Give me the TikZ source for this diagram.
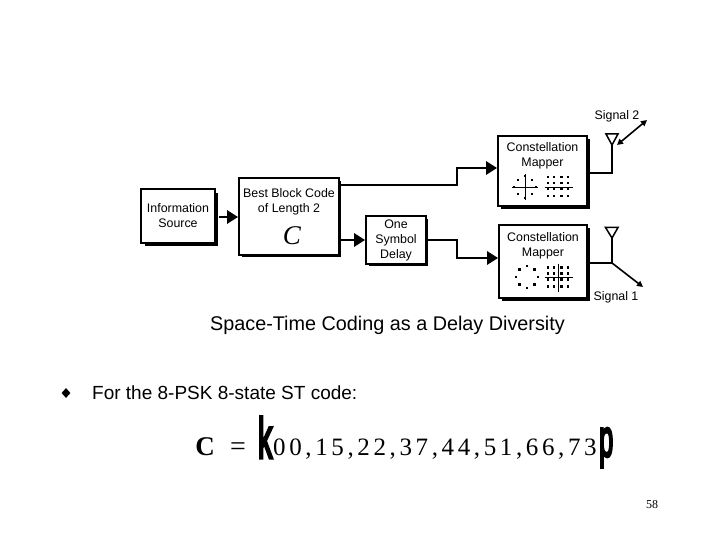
\documentclass[tikz,border=0pt]{standalone}
\usepackage{fontspec}
\setmainfont{Liberation Sans}
\newfontfamily\timesfont{Liberation Serif}
\newfontfamily\heavyfont[FakeBold=6]{Liberation Sans}
\usetikzlibrary{arrows.meta, positioning, shapes.geometric, calc}
\tikzset{
  blockbox/.style={draw=black, line width=1.8pt, fill=white, align=center, font=\fontsize{12.4}{15}\selectfont},
  shadowbox/.style={fill=black},
  boxlabel/.style={align=center, inner sep=0pt, font=\fontsize{12.4}{15}\selectfont},
  feedline/.style={line width=2.8pt, -{Triangle[length=11pt, width=13pt]}},
  plainline/.style={line width=1.7pt},
  radioline/.style={line width=1.6pt, -{Triangle[length=6pt, width=6pt]}},
  axisline/.style={line width=0.8pt},
  symdot/.style={fill=black}
}
\begin{document}
\begin{tikzpicture}[x=1pt, y=-1pt]
\useasboundingbox (0,0) rectangle (720,540);

% Shadows behind the blocks
\fill[shadowbox] (145,193) rectangle (218,246);
\fill[shadowbox] (242,181) rectangle (341,257);
\fill[shadowbox] (369,219) rectangle (428,266);
\fill[shadowbox] (501,139) rectangle (590,209);
\fill[shadowbox] (502,228) rectangle (590,301);

% Blocks
\node[blockbox, minimum width=74pt, minimum height=54pt] (source) at (178,216) {Information\\Source};
\node[blockbox, minimum width=100pt, minimum height=77pt] (code) at (289,216.5) {};
\node[blockbox, minimum width=60pt, minimum height=48pt, inner sep=0pt] (delay) at (396,240) {\rule{0pt}{2pt}One\\Symbol\\Delay};
\node[blockbox, minimum width=89pt, minimum height=70pt] (mapperA) at (542.5,171) {};
\node[blockbox, minimum width=88pt, minimum height=73pt] (mapperB) at (543,261.5) {};

% Block texts
\node[boxlabel, below=11pt of code.north] (codetext) {Best Block Code\\of Length 2};
\node[font=\timesfont\itshape\fontsize{27}{27}\selectfont, inner sep=0pt] (codename) at (292,236) {C};
\node[boxlabel, below=7pt of mapperA.north] (mapperAtext) {Constellation\\Mapper};
\node[boxlabel, below=8pt of mapperB.north] (mapperBtext) {Constellation\\Mapper};

% Connectors
\coordinate (splitA) at (457,185);
\coordinate (splitB) at (457,240);
\draw[feedline] ([yshift=-1pt]source.east) ++(3,0) -- (code.west |- {0,217});
\draw[feedline] (code.east |- delay.west) -- (delay.west);
\draw[feedline] (code.east |- splitA) -- (splitA) |- ([yshift=3pt]mapperA.west);
\draw[feedline] (delay.east) -- (splitB) |- ([yshift=3.5pt]mapperB.west);

% Antennas
\coordinate (tipA) at (612,145);
\coordinate (tipB) at (612,238);
\coordinate (endA) at (647,120);
\coordinate (endB) at (643,287);
\coordinate (footA) at (617,145);
\coordinate (footB) at (612,263);
\draw[line width=1.5pt, line join=miter] (606,134) -- (618,134) -- (tipA) -- cycle;
\draw[line width=1.5pt, line join=miter] (605.5,227.5) -- (618,227.5) -- (tipB) -- cycle;
\draw[plainline] ([yshift=-2pt]mapperA.east) -| (tipA);
\draw[plainline] ([yshift=-1.5pt]mapperB.east) -| (tipB);
\draw[radioline, {Triangle[length=6pt, width=6pt]}-{Triangle[length=6pt, width=6pt]}] (footA) -- (endA);
\draw[radioline] (footB) -- (endB);
\node[boxlabel] (signalA) at (617,116.5) {Signal 2};
\node[boxlabel] (signalB) at (616,297.5) {Signal 1};

% Constellations
\coordinate (crossA) at (525,187);
\coordinate (gridA) at (558.5,187);
\coordinate (ringB) at (527,277);
\coordinate (crossB) at (558.5,277.5);
\draw[axisline] ($(crossA)+(-13,0)$) -- ($(crossA)+(13,0)$);
\draw[axisline] ($(crossA)+(0,-13)$) -- ($(crossA)+(0,13)$);
\foreach \a in {0,90,180,270} {
  \fill[symdot] ($(crossA)+(\a:11)+(-1.3,-1.3)$) rectangle +(2.6,2.6);
  \fill[symdot] ($(crossA)+(\a+45:10)+(-1.3,-1.3)$) rectangle +(2.6,2.6);
}
\draw[axisline] ($(gridA)+(-14,0)$) -- ($(gridA)+(14,0)$);
\draw[axisline] ($(crossB)+(-14,0)$) -- ($(crossB)+(14,0)$);
\draw[axisline] ($(crossB)+(0,-14)$) -- ($(crossB)+(0,14)$);
\foreach \c in {-10.5,-4.5,3,9.5} {
  \foreach \r in {-10,-4,2,9} {
    \fill[symdot] ($(gridA)+(\c,\r)+(-1.3,-1.3)$) rectangle +(2.6,2.6);
    \fill[symdot] ($(crossB)+(\c,\r)+(-1.3,-1.3)$) rectangle +(2.6,2.6);
  }
}
\foreach \a in {0,45,...,315} {
  \fill[symdot] ($(ringB)+(\a:11)+(-1.3,-1.3)$) rectangle +(2.6,2.6);
}

% Slide texts
\node[inner sep=0pt, font=\fontsize{19.8}{22}\selectfont] (caption) at (387.5,325) {Space-Time Coding as a Delay Diversity};
\node[diamond, fill=black, inner sep=0pt, minimum width=9pt, minimum height=10pt] (bullet) at (66,393) {};
\node[inner sep=0pt, anchor=west, font=\fontsize{19}{22}\selectfont] (item) at (92,392.5) {For the 8-PSK 8-state ST code:};

% Code formula
\node[inner sep=0pt, anchor=base, font=\timesfont\bfseries\fontsize{27}{27}\selectfont] (cname) at (205,455) {C};
\node[inner sep=0pt, anchor=base, font=\timesfont\fontsize{28}{28}\selectfont] (equals) at (238,455) {=};
\node[inner sep=0pt, anchor=south west] (openbrace) at (258,458) {\resizebox*{14pt}{41pt}{\heavyfont k}};
\node[inner sep=0pt, anchor=base west, font=\timesfont\addfontfeature{LetterSpace=14.5}\fontsize{25}{25}\selectfont] (pairs) at (273,455) {00,15,22,37,44,51,66,73};
\node[inner sep=0pt, anchor=north west] (closebrace) at (599,428) {\resizebox*{14pt}{39pt}{\heavyfont p}};
\node[inner sep=0pt, font=\timesfont\fontsize{12}{14}\selectfont] (pageno) at (652,505) {58};
\end{tikzpicture}
\end{document}
